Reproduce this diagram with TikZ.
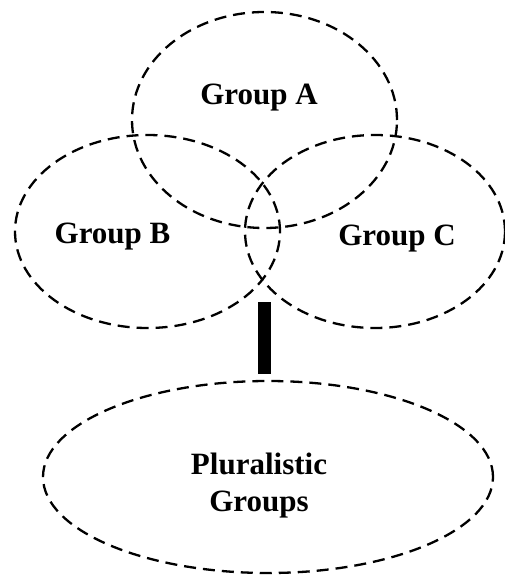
\documentclass[tikz,border=0pt]{standalone}
\usepackage{fontspec}
\setmainfont{Liberation Serif}
\usepackage{tikz}
\usetikzlibrary{shapes.geometric}

\begin{document}
\begin{tikzpicture}[
    x=1pt, y=-1pt,
    grp/.style={draw, ellipse, dash pattern=on 12pt off 7pt, line width=2.3pt, inner sep=0pt, outer sep=0pt},
    lbl/.style={font=\fontsize{31}{37}\selectfont\bfseries, inner sep=0pt, align=center},
    bar/.style={draw, line width=12.5pt}
]
    \useasboundingbox (0,0) rectangle (504,575);

    % Circles
    \node[grp, minimum width=265pt, minimum height=216pt] (grpA) at (264.5,120) {};
    \node[grp, minimum width=265pt, minimum height=193pt] (grpB) at (147.5,231.5) {};
    \node[grp, minimum width=260pt, minimum height=193pt] (grpC) at (375,231.5) {};
    \node[grp, minimum width=450pt, minimum height=192pt] (plural) at (268,477) {};

    % Labels
    \node[lbl, anchor=base] (txtA) at (259,105) {Group A};
    \node[lbl, anchor=base] (txtB) at (112.5,243) {Group B};
    \node[lbl, anchor=base] (txtC) at (397,245) {Group C};
    \node[lbl] (txtP) at (259,485.5) {Pluralistic\\Groups};

    % Connections
    \coordinate (barTop) at (264.5,302);
    \draw[bar, shorten >=7pt] (barTop) -- (barTop |- plural.north);
\end{tikzpicture}
\end{document}
